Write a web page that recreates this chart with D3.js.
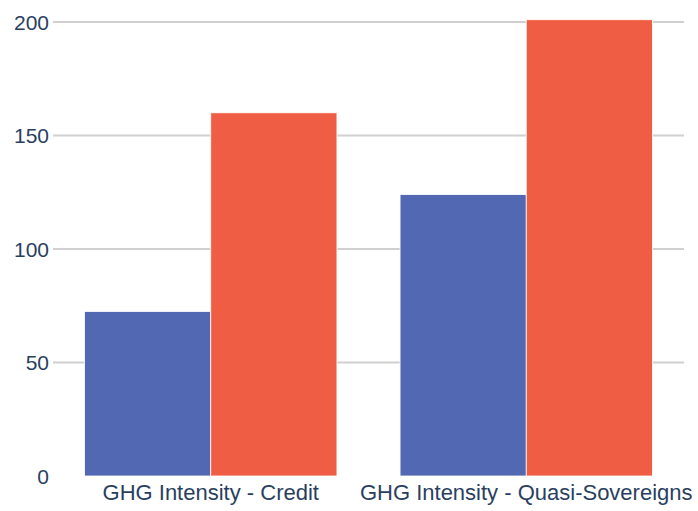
<!DOCTYPE html>
<html>
<head>
<meta charset="utf-8">
<script src="https://cdn.jsdelivr.net/npm/d3@7"></script>
<style>
  body { margin: 0; background: #fff; }
  text { font-family: "Liberation Sans", Arial, sans-serif; fill: #2a3f5f; }
</style>
</head>
<body>
<div id="chart"></div>
<script>
const width = 698;
const height = 511;

const categories = ["GHG Intensity - Credit", "GHG Intensity - Quasi-Sovereigns"];
const seriesA = [72.5, 124];   // blue
const seriesB = [160, 201];    // red
const yTicks = [0, 50, 100, 150, 200];

const colors = ["#5368b3", "#ef5e44"];

const margin = { left: 53, right: 14, top: 22, bottom: 35 };

const svg = d3.select("#chart")
  .append("svg")
  .attr("width", width)
  .attr("height", height);

const x = d3.scaleBand()
  .domain(categories)
  .range([margin.left, width - margin.right])
  .paddingInner(0.2)
  .paddingOuter(0.1);

const xSub = d3.scaleBand()
  .domain([0, 1])
  .range([0, x.bandwidth()]);

const y = d3.scaleLinear()
  .domain([0, 200])
  .range([height - margin.bottom, margin.top]);

// gridlines
svg.append("g")
  .selectAll("line")
  .data(yTicks.filter(d => d > 0))
  .enter()
  .append("line")
  .attr("x1", margin.left)
  .attr("x2", width - margin.right)
  .attr("y1", d => y(d))
  .attr("y2", d => y(d))
  .attr("stroke", "#d0d0d0")
  .attr("stroke-width", 2);

// y tick labels
svg.append("g")
  .selectAll("text")
  .data(yTicks)
  .enter()
  .append("text")
  .attr("x", margin.left - 4)
  .attr("y", d => y(d))
  .attr("dy", "0.36em")
  .attr("text-anchor", "end")
  .style("font-size", "21px")
  .text(d => d);

// bars
const rows = categories.map((c, i) => ({ cat: c, vals: [seriesA[i], seriesB[i]] }));

const groups = svg.append("g")
  .selectAll("g")
  .data(rows)
  .enter()
  .append("g")
  .attr("transform", d => `translate(${x(d.cat)},0)`);

groups.selectAll("rect")
  .data(d => d.vals)
  .enter()
  .append("rect")
  .attr("x", (d, i) => xSub(i))
  .attr("width", xSub.bandwidth())
  .attr("y", d => y(d))
  .attr("height", d => y(0) - y(d))
  .attr("fill", (d, i) => colors[i])
  .attr("stroke", "#fff")
  .attr("stroke-width", 0.8);

// category labels
svg.append("g")
  .selectAll("text")
  .data(categories)
  .enter()
  .append("text")
  .attr("x", d => x(d) + x.bandwidth() / 2)
  .attr("y", height - 11)
  .attr("text-anchor", "middle")
  .style("font-size", "22px")
  .text(d => d);
</script>
</body>
</html>
